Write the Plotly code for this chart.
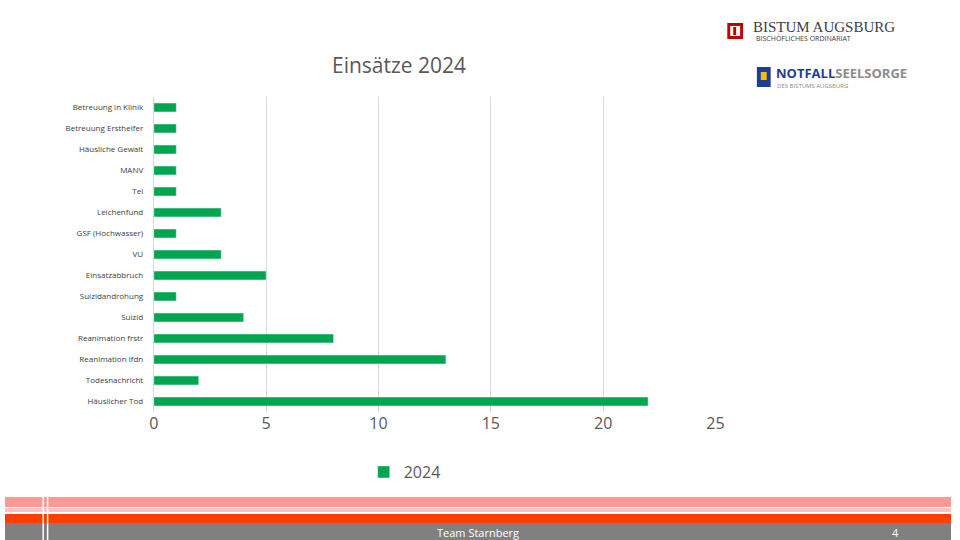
import plotly.graph_objects as go

categories = ["Häuslicher Tod","Todesnachricht","Reanimation lfdn","Reanimation frstr","Suizid",
              "Suizidandrohung","Einsatzabbruch","VU","GSF (Hochwasser)","Leichenfund","Tel",
              "MANV","Häusliche Gewalt","Betreuung Ersthelfer","Betreuung in Klinik"]
values_2024 = [22,2,13,8,4,1,5,3,1,3,1,1,1,1,1]
x_ticks = [0,5,10,15,20,25]

fig = go.Figure(go.Bar(y=categories, x=values_2024, orientation="h", name="2024",
                       marker_color="#00A550", width=0.42))
W,H=960,540
fig.update_layout(
    width=W,height=H,paper_bgcolor="white",plot_bgcolor="white",
    margin=dict(l=0,r=0,t=0,b=0),
    font=dict(family="Open Sans",color="#595959"),
    xaxis=dict(domain=[151/W,721/W],range=[0,25],tickvals=x_ticks,showgrid=True,gridcolor="#D9D9D9",
               zeroline=False,tickfont=dict(size=16,color="#595959"),ticks="",anchor="y"),
    yaxis=dict(domain=[1-412/H,1-97/H],tickfont=dict(size=8,color="#404040"),ticks="",
               showline=True,linecolor="#D9D9D9",ticklabelstandoff=8),
    showlegend=True,
    legend=dict(x=364/W,y=1-472/H,xanchor="left",yanchor="middle",font=dict(size=16,color="#595959"),orientation="h"),
    bargap=0.5,
)
ann=[dict(text="Einsätze 2024",x=400/W,y=1-65/H,font=dict(size=21,color="#595959")),
     dict(text="BISTUM AUGSBURG",x=757/W,y=1-27/H,xanchor="left",font=dict(size=15,family="Liberation Serif",color="#404040")),
     dict(text="BISCHÖFLICHES ORDINARIAT",x=760/W,y=1-39/H,xanchor="left",font=dict(size=7,color="#404040")),
     dict(text="<b><span style='color:#1F3E93'>NOTFALL</span><span style='color:#8C8C8C'>SEELSORGE</span></b>",x=780/W,y=1-73/H,xanchor="left",font=dict(size=13)),
     dict(text="DES BISTUMS AUGSBURG",x=781/W,y=1-86/H,xanchor="left",font=dict(size=6,color="#8C8C8C")),
     dict(text="Team Starnberg",x=480/W,y=1-532/H,font=dict(size=11,color="white")),
     dict(text="4",x=909/W,y=1-532/H,font=dict(size=11,color="white"))]
for a in ann:
    a.update(xref="paper",yref="paper",showarrow=False,yanchor=a.get("yanchor","middle"))
fig.update_layout(annotations=ann)
def rect(x0,y0,x1,y1,c,lw=0):
    return dict(type="rect",xref="paper",yref="paper",x0=x0/W,x1=x1/W,y0=1-y1/H,y1=1-y0/H,
                fillcolor=c,line=dict(width=0),layer="above")
shapes=[rect(0,497,960,507,"#F99A94"),rect(0,508,960,512,"#FBC3BF"),rect(0,514,960,523,"#FF3D00"),
        rect(0,523,960,540,"#808080"),rect(38,497,39.5,540,"white"),rect(42.5,497,44,540,"white"),
        rect(733,23,749,39,"#C00000"),rect(736,26,746,36,"white"),rect(739,27,742,35,"#C00000"),
        rect(763,67,777,87,"#1F3E93"),rect(767,72,773,80,"#F2C200")]
fig.update_layout(shapes=shapes)
js = ("var s=document.createElement('style');"
      "s.innerHTML='html,body{margin:0!important;padding:0!important;overflow:hidden}"
      ".plotly-graph-div{position:fixed!important;left:0;top:0}';"
      "document.head.appendChild(s);")
fig.write_html("out.html", config={"displayModeBar": False, "responsive": False}, post_script=js)
